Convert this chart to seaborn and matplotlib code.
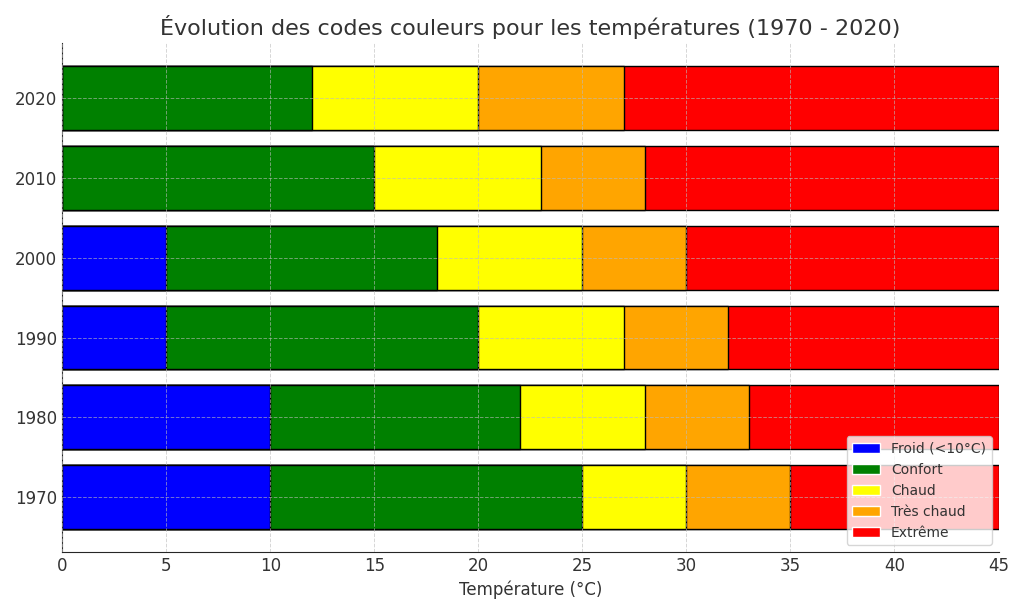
import matplotlib
matplotlib.use("Agg")
import matplotlib.pyplot as plt
import pandas as pd
import seaborn as sns
from matplotlib.patches import Patch

# valeurs (largeur de chaque zone, en °C)
annees = ["1970", "1980", "1990", "2000", "2010", "2020"]
froid = [10, 10, 5, 5, 0, 0]
confort = [15, 12, 15, 13, 15, 12]
chaud = [5, 6, 7, 7, 8, 8]
tres_chaud = [5, 5, 5, 5, 5, 7]
extreme = [10, 12, 13, 15, 17, 18]

categories = ["Froid (<10°C)", "Confort", "Chaud", "Très chaud", "Extrême"]
couleurs = ["blue", "green", "yellow", "orange", "red"]

df = pd.DataFrame({"annee": annees, "Froid (<10°C)": froid, "Confort": confort,
                   "Chaud": chaud, "Très chaud": tres_chaud, "Extrême": extreme})

# cumul pour empiler : on dessine du plus long au plus court, chaque barre recouvre la précédente
cumul = df[categories].cumsum(axis=1)

sns.set_style("white")
plt.rcParams["text.color"] = "#333333"
plt.rcParams["axes.labelcolor"] = "#333333"
plt.rcParams["xtick.color"] = "#333333"
plt.rcParams["ytick.color"] = "#333333"

fig, ax = plt.subplots(figsize=(10.24, 6.14), dpi=100)
ordre = annees[::-1]
for cat, coul in zip(categories[::-1], couleurs[::-1]):
    sns.barplot(x=cumul[cat], y=df["annee"], order=ordre, color=coul, orient="h",
                edgecolor="black", linewidth=1, width=0.8, saturation=1, ax=ax)

ax.set_xlim(0, 45)
ax.set_ylim(5.69, -0.69)
ax.set_xlabel("Température (°C)", fontsize=12)
ax.set_ylabel("")
ax.set_title("Évolution des codes couleurs pour les températures (1970 - 2020)", fontsize=16)
ax.tick_params(axis="both", labelsize=12, length=0)
sns.despine(ax=ax)
ax.set_axisbelow(False)
ax.grid(True, linestyle="--", linewidth=0.7, color="#bbbbbb", alpha=0.6)

poignees = [Patch(facecolor=c, label=l) for c, l in zip(couleurs, categories)]
ax.legend(handles=poignees, loc="lower right", fontsize=10)

fig.tight_layout()
fig.savefig("out.png", dpi=100)
